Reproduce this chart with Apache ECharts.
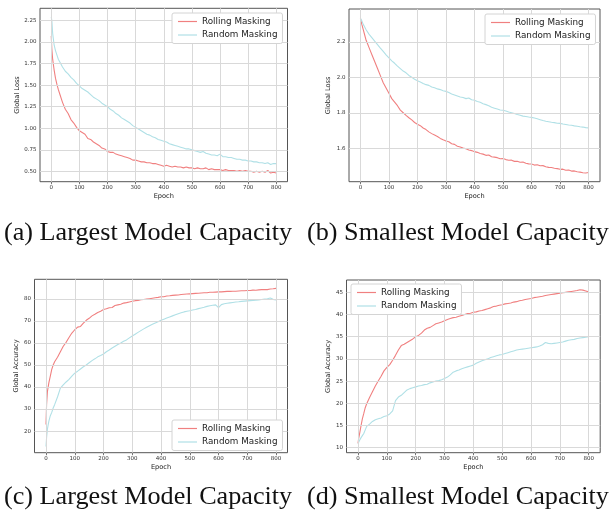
<!DOCTYPE html>
<html>
<head>
<meta charset="utf-8">
<script src="https://cdn.jsdelivr.net/npm/echarts@6/dist/echarts.min.js"></script>
<style>
  html, body { margin: 0; padding: 0; background: #fff; }
  #chart { width: 614px; height: 517px; }
</style>
</head>
<body>
<div id="chart"></div>
<script>
// epochs sampled from the curves
const epochs = [0, 2, 5, 10, 15, 20, 25, 30,
  40, 50, 60, 70, 80, 90, 100, 110, 120, 130, 140, 150,
  160, 170, 180, 190, 200, 210, 220, 230, 240, 250,
  260, 270, 280, 290, 300, 310, 320, 330, 340, 350,
  360, 370, 380, 390, 400, 410, 420, 430, 440, 450,
  460, 470, 480, 490, 500, 510, 520, 530, 540, 550,
  560, 570, 580, 590, 600, 610, 620, 630, 640, 650,
  660, 670, 680, 690, 700, 710, 720, 730, 740, 750,
  760, 770, 780, 790, 800];

// (a) loss, largest capacity
const lossLargeRolling = [2.07, 1.92, 1.80, 1.68, 1.58, 1.51, 1.45, 1.40,
  1.30, 1.22, 1.17, 1.10, 1.06, 1.01, 0.97, 0.95, 0.93, 0.88, 0.87, 0.84,
  0.82, 0.80, 0.77, 0.76, 0.73, 0.72, 0.72, 0.70, 0.69, 0.68,
  0.67, 0.66, 0.65, 0.63, 0.63, 0.62, 0.61, 0.61, 0.60, 0.60,
  0.59, 0.59, 0.58, 0.57, 0.56, 0.57, 0.56, 0.55, 0.56, 0.55,
  0.55, 0.54, 0.55, 0.54, 0.54, 0.53, 0.54, 0.53, 0.53, 0.54,
  0.52, 0.53, 0.52, 0.52, 0.52, 0.51, 0.52, 0.51, 0.51, 0.51,
  0.50, 0.51, 0.50, 0.51, 0.50, 0.50, 0.49, 0.50, 0.49, 0.50,
  0.49, 0.51, 0.48, 0.49, 0.48];
const lossLargeRandom = [2.29, 2.25, 2.10, 1.97, 1.90, 1.85, 1.80, 1.77,
  1.71, 1.66, 1.63, 1.59, 1.56, 1.52, 1.49, 1.46, 1.44, 1.42, 1.39, 1.36,
  1.34, 1.32, 1.29, 1.27, 1.25, 1.22, 1.20, 1.17, 1.15, 1.12,
  1.10, 1.08, 1.06, 1.03, 1.01, 0.99, 0.97, 0.95, 0.93, 0.92,
  0.90, 0.89, 0.87, 0.86, 0.85, 0.84, 0.82, 0.81, 0.80, 0.79,
  0.78, 0.77, 0.76, 0.76, 0.75, 0.74, 0.73, 0.72, 0.73, 0.71,
  0.70, 0.69, 0.69, 0.68, 0.70, 0.67, 0.67, 0.66, 0.66, 0.65,
  0.64, 0.64, 0.63, 0.63, 0.62, 0.62, 0.61, 0.61, 0.60, 0.60,
  0.59, 0.60, 0.58, 0.59, 0.59];

// (b) loss, smallest capacity
const lossSmallRolling = [2.335, 2.32, 2.30, 2.27, 2.24, 2.21, 2.19, 2.17,
  2.13, 2.09, 2.05, 2.01, 1.97, 1.94, 1.91, 1.88, 1.86, 1.84, 1.815, 1.80,
  1.785, 1.772, 1.76, 1.745, 1.735, 1.727, 1.714, 1.705, 1.692, 1.682,
  1.674, 1.666, 1.655, 1.647, 1.640, 1.636, 1.625, 1.621, 1.611, 1.606,
  1.600, 1.596, 1.589, 1.586, 1.580, 1.576, 1.570, 1.566, 1.559, 1.561,
  1.551, 1.549, 1.546, 1.540, 1.541, 1.535, 1.531, 1.532, 1.525, 1.526,
  1.520, 1.521, 1.514, 1.511, 1.510, 1.504, 1.506, 1.500, 1.501, 1.495,
  1.491, 1.490, 1.486, 1.484, 1.480, 1.481, 1.475, 1.476, 1.470, 1.471,
  1.466, 1.464, 1.461, 1.459, 1.462];
const lossSmallRandom = [2.335, 2.33, 2.32, 2.30, 2.285, 2.27, 2.26, 2.245,
  2.225, 2.205, 2.186, 2.166, 2.147, 2.128, 2.111, 2.094, 2.08, 2.064, 2.05, 2.036,
  2.026, 2.011, 2.001, 1.99, 1.981, 1.974, 1.966, 1.959, 1.955, 1.946,
  1.941, 1.935, 1.931, 1.925, 1.921, 1.914, 1.906, 1.901, 1.895, 1.889,
  1.886, 1.880, 1.884, 1.874, 1.871, 1.864, 1.859, 1.851, 1.846, 1.840,
  1.831, 1.826, 1.821, 1.816, 1.814, 1.810, 1.804, 1.800, 1.796, 1.790,
  1.786, 1.781, 1.779, 1.776, 1.774, 1.770, 1.766, 1.761, 1.756, 1.752,
  1.749, 1.746, 1.744, 1.741, 1.740, 1.736, 1.734, 1.731, 1.729, 1.726,
  1.724, 1.721, 1.719, 1.716, 1.714];

// (c) accuracy, largest capacity
const accLargeRolling = [23, 32, 38, 42, 45, 48, 50, 51.5,
  53.5, 56, 58.5, 60.3, 62.5, 64.5, 66, 67.2, 67.5, 69, 70.3, 71.2,
  72.3, 73, 73.8, 74.4, 75.2, 75.5, 76, 76.1, 77, 77.3,
  77.6, 78.1, 78.3, 78.6, 78.9, 79.2, 79.3, 79.6, 79.7, 79.9,
  80.1, 80.3, 80.5, 80.7, 81, 81, 81.3, 81.4, 81.6, 81.7,
  81.8, 82, 82.1, 82.2, 82.3, 82.4, 82.5, 82.6, 82.7, 82.8,
  82.8, 83, 83, 83.1, 83.2, 83.2, 83.3, 83.4, 83.4, 83.5,
  83.5, 83.6, 83.7, 83.7, 83.8, 83.8, 84, 83.9, 84.1, 84.2,
  84.3, 84.2, 84.5, 84.6, 84.8];
const accLargeRandom = [13, 17, 21, 24.5, 27, 28.5, 30.5, 32,
  35.5, 39.5, 41, 42.3, 43.5, 45, 46.3, 47.2, 48.2, 49.2, 50, 51,
  52, 52.8, 53.7, 54.3, 55, 56, 56.8, 57.7, 58.5, 59.3,
  60, 60.8, 61.4, 62.3, 63.2, 64, 64.8, 65.6, 66.4, 67.1,
  67.8, 68.5, 69.1, 69.6, 70.3, 70.8, 71.3, 71.8, 72.3, 72.8,
  73.3, 73.7, 74.1, 74.4, 74.6, 75, 75.2, 75.6, 75.9, 76.2,
  76.6, 76.9, 77.1, 77.3, 76, 77.4, 77.8, 78, 78.2, 78.4,
  78.6, 78.7, 78.9, 79, 79.1, 79.2, 79.3, 79.4, 79.5, 79.7,
  79.9, 80.1, 80.4, 79.8, 79.5];

// (d) accuracy, smallest capacity
const accSmallRolling = [11, 12, 13, 14.8, 16.5, 17.7, 19, 19.9,
  21.3, 22.6, 23.9, 25, 26.1, 27.3, 28.1, 28.7, 29.7, 30.8, 32, 33,
  33.3, 33.7, 34.1, 34.5, 35, 35.3, 35.8, 36.5, 36.9, 37.1,
  37.5, 37.9, 38.1, 38.3, 38.6, 38.9, 39.1, 39.3, 39.4, 39.6,
  39.8, 40, 40.2, 40.3, 40.5, 40.6, 40.8, 40.9, 41.1, 41.3,
  41.5, 41.8, 41.9, 42.1, 42.2, 42.4, 42.5, 42.6, 42.8, 42.9,
  43.1, 43.2, 43.4, 43.5, 43.6, 43.8, 43.9, 44, 44.1, 44.3,
  44.4, 44.5, 44.6, 44.7, 44.8, 44.9, 45, 45.1, 45.2, 45.3,
  45.4, 45.6, 45.5, 45.3, 45.1];
const accSmallRandom = [10.9, 11.2, 11.6, 12.2, 12.7, 13.2, 14, 14.8,
  15.3, 15.9, 16.3, 16.5, 16.7, 17, 17.2, 17.6, 18.3, 20.6, 21.4, 21.8,
  22.4, 23, 23.3, 23.5, 23.7, 23.9, 24, 24.2, 24.3, 24.6,
  24.8, 25, 25.1, 25.3, 25.6, 25.9, 26.4, 27, 27.3, 27.5,
  27.8, 28, 28.2, 28.4, 28.6, 29, 29.3, 29.6, 29.8, 30,
  30.3, 30.5, 30.7, 30.9, 31, 31.2, 31.4, 31.6, 31.8, 32,
  32.1, 32.2, 32.3, 32.4, 32.5, 32.6, 32.7, 32.9, 33.2, 33.7,
  33.5, 33.4, 33.5, 33.6, 33.7, 33.8, 34, 34.2, 34.3, 34.4,
  34.6, 34.7, 34.8, 34.9, 35];

// tick labels
const epochTicks = [0, 100, 200, 300, 400, 500, 600, 700, 800];
const lossLargeTicks = [0.5, 0.75, 1.0, 1.25, 1.5, 1.75, 2.0, 2.25];
const lossSmallTicks = [1.6, 1.8, 2.0, 2.2];
const accLargeTicks = [20, 30, 40, 50, 60, 70, 80];
const accSmallTicks = [10, 15, 20, 25, 30, 35, 40, 45];

const seriesNames = ['Rolling Masking', 'Random Masking'];
const captions = ['(a) Largest Model Capacity', '(b) Smallest Model Capacity',
  '(c) Largest Model Capacity', '(d) Smallest Model Capacity'];

const colors = ['#f08080', '#b0e0e6'];

// layout of each subplot (pixels)
const panels = [
  { grid: { left: 40, top: 8.3, width: 247.5, height: 173.4 }, yRange: [0.38, 2.39], ticks: lossLargeTicks, digits: 2,
    yName: 'Global Loss', yGap: 19.5, data: [lossLargeRolling, lossLargeRandom], legend: { left: 172, top: 13 },
    caption: { left: 4, top: 220 } },
  { grid: { left: 349, top: 9, width: 251, height: 172.7 }, yRange: [1.41, 2.387], ticks: lossSmallTicks, digits: 1,
    yName: 'Global Loss', yGap: 17, data: [lossSmallRolling, lossSmallRandom], legend: { left: 485, top: 14 },
    caption: { left: 307, top: 220 } },
  { grid: { left: 34.5, top: 279.3, width: 253, height: 173.4 }, yRange: [10.2, 88.9], ticks: accLargeTicks, digits: 0,
    yName: 'Global Accuracy', yGap: 15, data: [accLargeRolling, accLargeRandom], legend: { left: 172, top: 420 },
    caption: { left: 4, top: 484.5 } },
  { grid: { left: 346.5, top: 280, width: 253.7, height: 172.7 }, yRange: [8.86, 47.78], ticks: accSmallTicks, digits: 0,
    yName: 'Global Accuracy', yGap: 15, data: [accSmallRolling, accSmallRandom], legend: { left: 351, top: 284 },
    caption: { left: 307, top: 484.5 } }
];

const tickFont = { fontFamily: 'DejaVu Sans', fontSize: 5.5, color: '#333' };
const nameFont = { fontFamily: 'DejaVu Sans', fontSize: 6.6, color: '#222' };

const grid = [], xAxis = [], yAxis = [], series = [], legend = [], title = [];

panels.forEach((p, i) => {
  grid.push(Object.assign({ show: true, borderColor: '#555', borderWidth: 1, backgroundColor: '#fff' }, p.grid));

  xAxis.push({
    type: 'value', gridIndex: i, min: -40, max: 840,
    name: 'Epoch', nameLocation: 'middle', nameGap: 11.5, nameTextStyle: nameFont,
    axisLine: { show: false },
    splitLine: { show: false },
    axisTick: { show: true, length: 2.5, customValues: epochTicks, lineStyle: { color: '#555', width: 0.8 } },
    axisLabel: { customValues: epochTicks, margin: 3, ...tickFont }
  });

  yAxis.push({
    type: 'value', gridIndex: i, min: p.yRange[0], max: p.yRange[1],
    name: p.yName, nameLocation: 'middle', nameGap: p.yGap, nameTextStyle: nameFont,
    axisLine: { show: false },
    splitLine: { show: false },
    axisTick: { show: true, length: 2.5, customValues: p.ticks, lineStyle: { color: '#555', width: 0.8 } },
    axisLabel: { customValues: p.ticks, margin: 3.5, formatter: v => v.toFixed(p.digits), ...tickFont }
  });

  // grid lines as mark lines on the panel's axes
  series.push({
    type: 'line', xAxisIndex: i, yAxisIndex: i, data: [], silent: true, z: 1,
    markLine: {
      silent: true, symbol: 'none', animation: false, label: { show: false },
      lineStyle: { color: '#d9d9d9', width: 1, type: 'solid' },
      emphasis: { disabled: true },
      data: epochTicks.map(v => ({ xAxis: v })).concat(p.ticks.map(v => ({ yAxis: v })))
    }
  });

  seriesNames.forEach((name, k) => {
    series.push({
      name, type: 'line', xAxisIndex: i, yAxisIndex: i, z: 2 + k,
      showSymbol: false, symbol: 'none', smooth: false,
      color: colors[k],
      lineStyle: { width: 1.1, color: colors[k] },
      data: epochs.map((e, j) => [e, p.data[k][j]])
    });
  });

  legend.push({
    data: seriesNames, orient: 'vertical', left: p.legend.left, top: p.legend.top, z: 20,
    icon: 'rect', itemWidth: 19, itemHeight: 1.2, itemGap: 2.5,
    padding: [3, 5, 3, 6], borderColor: '#d4d4d4', borderWidth: 1, borderRadius: 2,
    backgroundColor: '#ffffff',
    textStyle: { fontFamily: 'DejaVu Sans', fontSize: 8.8, color: '#222', lineHeight: 11 }
  });

  title.push({
    text: captions[i], left: p.caption.left, top: p.caption.top, padding: 0,
    textStyle: { fontFamily: 'Liberation Serif', fontSize: 26.2, fontWeight: 'normal', color: '#111' }
  });
});

const chart = echarts.init(document.getElementById('chart'));
chart.setOption({
  animation: false,
  backgroundColor: '#fff',
  title, grid, xAxis, yAxis, legend, series
});
</script>
</body>
</html>
